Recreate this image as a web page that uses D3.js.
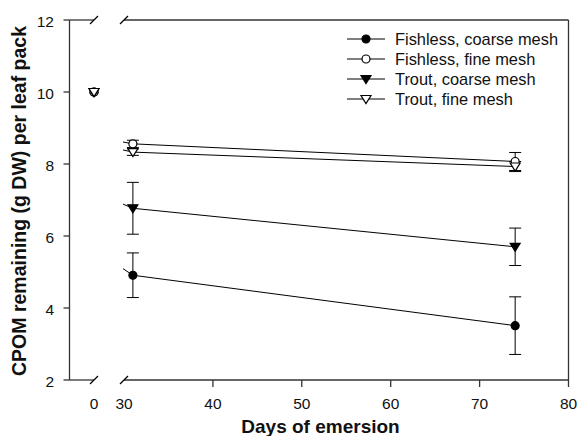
<!DOCTYPE html>
<meta charset='utf-8'>
<head>
    <title>CPOM remaining</title>
    <script src='https://d3js.org/d3.v7.min.js'></script>
</head>

<style>
    body { margin: 0; background: #fff; }
    text { font-family: 'Liberation Sans', Arial, sans-serif; fill: #111; }
    .frame { stroke: #333; stroke-width: 1.3px; fill: none; }
    .series { stroke: #000; stroke-width: 1px; fill: none; }
    .err { stroke: #000; stroke-width: 1px; }
</style>

<svg></svg>

<script>

    // data
    var days = [0, 31, 74];
    var seriesNames = ['Fishless, coarse mesh', 'Fishless, fine mesh', 'Trout, coarse mesh', 'Trout, fine mesh'];
    var fishlessCoarse = [10, 4.91, 3.51];
    var fishlessCoarseErr = [0, 0.62, 0.80];
    var fishlessFine = [10, 8.56, 8.07];
    var fishlessFineErr = [0, 0.1, 0.25];
    var troutCoarse = [10, 6.77, 5.70];
    var troutCoarseErr = [0, 0.72, 0.52];
    var troutFine = [10, 8.33, 7.93];
    var troutFineErr = [0, 0.09, 0.14];
    var xTicks = [0, 30, 40, 50, 60, 70, 80];
    var yTicks = [2, 4, 6, 8, 10, 12];

    var vWidth = 579;
    var vHeight = 436;
    var pLeft = 69.5, pTop = 20, pRight = 568.5, pBottom = 380;
    var breakA = 94, breakB = 124;

    var svg = d3.select('svg').attr('width', vWidth).attr('height', vHeight);

    // two x scales for the broken axis
    var xLow = d3.scaleLinear().domain([-2.75, 0]).range([pLeft, breakA]);
    var xHigh = d3.scaleLinear().domain([30, 80]).range([breakB, pRight]);
    function x(d) { return d < 15 ? xLow(d) : xHigh(d); }
    var y = d3.scaleLinear().domain([2, 12]).range([pBottom, pTop]);

    var series = [
        {name: seriesNames[0], v: fishlessCoarse, e: fishlessCoarseErr, shape: 'circle', fill: '#000'},
        {name: seriesNames[1], v: fishlessFine, e: fishlessFineErr, shape: 'circle', fill: '#fff'},
        {name: seriesNames[2], v: troutCoarse, e: troutCoarseErr, shape: 'tri', fill: '#000'},
        {name: seriesNames[3], v: troutFine, e: troutFineErr, shape: 'tri', fill: '#fff'}
    ];

    svg.append('defs').append('clipPath').attr('id', 'clipHigh')
        .append('rect').attr('x', breakB - 1).attr('y', pTop).attr('width', pRight - breakB + 1).attr('height', pBottom - pTop);

    // frame: left + right lines, top and bottom with breaks
    var frame = svg.append('g');
    frame.append('line').attr('class', 'frame').attr('x1', pLeft).attr('x2', pLeft).attr('y1', pTop).attr('y2', pBottom);
    frame.append('line').attr('class', 'frame').attr('x1', pRight).attr('x2', pRight).attr('y1', pTop).attr('y2', pBottom);
    [pTop, pBottom].forEach(function (yy) {
        frame.append('line').attr('class', 'frame').attr('x1', pLeft).attr('x2', breakA).attr('y1', yy).attr('y2', yy);
        frame.append('line').attr('class', 'frame').attr('x1', breakB).attr('x2', pRight).attr('y1', yy).attr('y2', yy);
        [breakA, breakB].forEach(function (bx) {
            frame.append('line').attr('stroke', '#000').attr('stroke-width', 1.2)
                .attr('x1', bx - 4).attr('y1', yy + 4).attr('x2', bx + 4).attr('y2', yy - 4);
        });
    });

    // y axis ticks
    var yAxis = svg.append('g');
    yAxis.selectAll('line').data(yTicks).enter().append('line').attr('class', 'frame')
        .attr('x1', pLeft - 6).attr('x2', pLeft)
        .attr('y1', function (d) { return y(d); }).attr('y2', function (d) { return y(d); });
    yAxis.selectAll('text').data(yTicks).enter().append('text')
        .attr('x', 54).attr('y', function (d) { return y(d) + 7; })
        .attr('text-anchor', 'end').style('font-size', '15.5px').text(function (d) { return d; });

    // x axis ticks (0 and 30 sit under the break marks)
    var xAxis = svg.append('g');
    xAxis.selectAll('line').data(xTicks.filter(function (d) { return d > 30; })).enter().append('line').attr('class', 'frame')
        .attr('x1', function (d) { return x(d); }).attr('x2', function (d) { return x(d); })
        .attr('y1', pBottom).attr('y2', pBottom + 7);
    xAxis.selectAll('text').data(xTicks).enter().append('text')
        .attr('x', function (d) { return x(d); }).attr('y', 409)
        .attr('text-anchor', 'middle').style('font-size', '15.5px').text(function (d) { return d; });

    // axis titles
    svg.append('text').attr('x', 320.5).attr('y', 433).attr('text-anchor', 'middle')
        .style('font-size', '19px').style('font-weight', 'bold').text('Days of emersion');
    svg.append('text').attr('transform', 'translate(26,201) rotate(-90)').attr('text-anchor', 'middle')
        .style('font-size', '19.5px').style('font-weight', 'bold').text('CPOM remaining (g DW) per leaf pack');

    function drawSymbol(g, s, cx, cy) {
        if (s.shape === 'circle') {
            g.append('circle').attr('cx', cx).attr('cy', cy).attr('r', 4)
                .attr('fill', s.fill).attr('stroke', '#000').attr('stroke-width', 1.2);
        } else {
            g.append('path').attr('d', 'M' + (cx - 5) + ',' + (cy - 3.5) + 'L' + (cx + 5) + ',' + (cy - 3.5) + 'L' + cx + ',' + (cy + 4.5) + 'Z')
                .attr('fill', s.fill).attr('stroke', '#000').attr('stroke-width', 1.2);
        }
    }

    // lines use the continuous upper scale, clipped to the right of the break
    var lineGen = d3.line().x(function (d) { return xHigh(d[0]); }).y(function (d) { return y(d[1]); });
    var plot = svg.append('g');
    series.forEach(function (s) {
        var pts = days.map(function (d, i) { return [d, s.v[i]]; });
        plot.append('path').attr('class', 'series').attr('clip-path', 'url(#clipHigh)').attr('d', lineGen(pts));
    });
    series.forEach(function (s) {
        days.forEach(function (d, i) {
            if (s.e[i] > 0) {
                var cx = x(d);
                plot.append('line').attr('class', 'err').attr('x1', cx).attr('x2', cx)
                    .attr('y1', y(s.v[i] + s.e[i])).attr('y2', y(s.v[i] - s.e[i]));
                [s.v[i] + s.e[i], s.v[i] - s.e[i]].forEach(function (v) {
                    plot.append('line').attr('class', 'err').attr('x1', cx - 6).attr('x2', cx + 6)
                        .attr('y1', y(v)).attr('y2', y(v));
                });
            }
        });
    });
    series.forEach(function (s) {
        days.forEach(function (d, i) { drawSymbol(plot, s, x(d), y(s.v[i])); });
    });

    // legend
    var legend = svg.append('g');
    series.forEach(function (s, i) {
        var ly = 39 + i * 20;
        legend.append('line').attr('class', 'series').attr('x1', 347).attr('x2', 385).attr('y1', ly).attr('y2', ly);
        drawSymbol(legend, s, 366, ly);
        legend.append('text').attr('x', 395).attr('y', ly + 6).style('font-size', '16.4px').text(s.name);
    });
</script>
